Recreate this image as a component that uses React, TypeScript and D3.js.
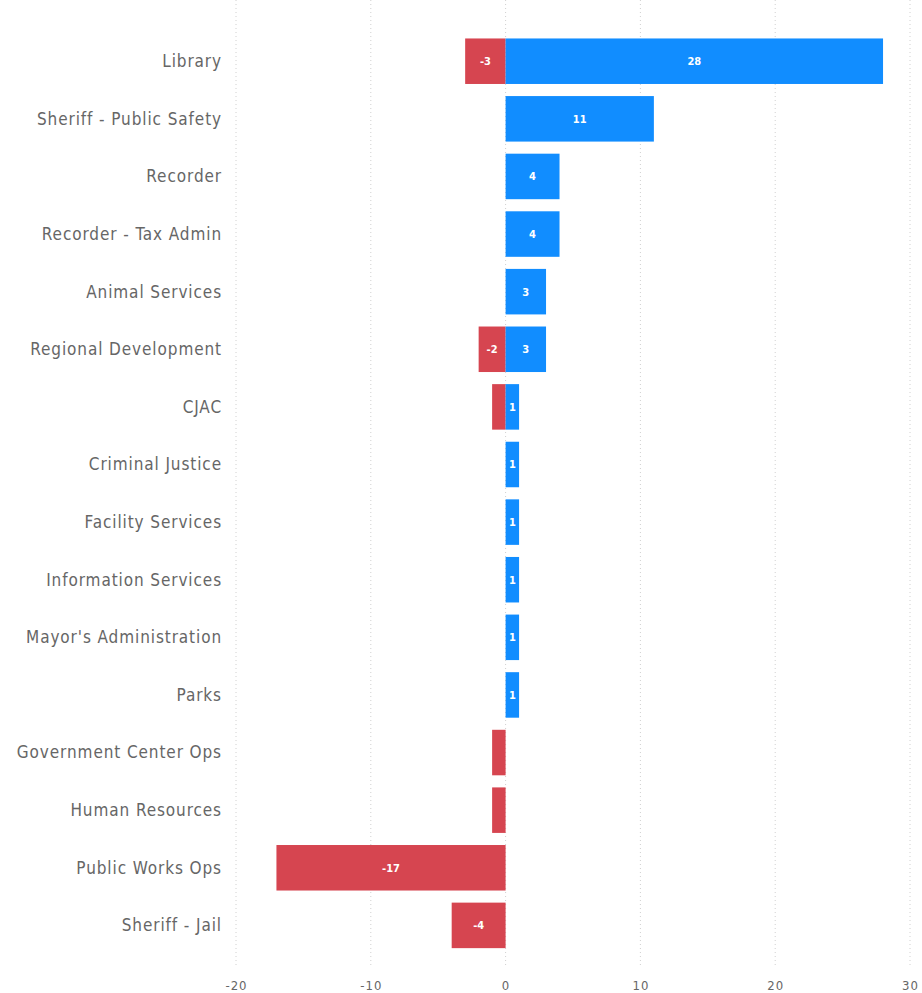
import React, { useEffect, useRef } from "react";
import * as d3 from "d3";

const categories = [
  "Library",
  "Sheriff - Public Safety",
  "Recorder",
  "Recorder - Tax Admin",
  "Animal Services",
  "Regional Development",
  "CJAC",
  "Criminal Justice",
  "Facility Services",
  "Information Services",
  "Mayor's Administration",
  "Parks",
  "Government Center Ops",
  "Human Resources",
  "Public Works Ops",
  "Sheriff - Jail",
];
const positiveValues = [28, 11, 4, 4, 3, 3, 1, 1, 1, 1, 1, 1, 0, 0, 0, 0];
const negativeValues = [-3, 0, 0, 0, 0, -2, -1, 0, 0, 0, 0, 0, -1, -1, -17, -4];
const xTicks = [-20, -10, 0, 10, 20, 30];

const W = 922;
const H = 993;
const BLUE = "#118DFF";
const RED = "#D64550";
const TEXT = "#666666";
const FONT = "'DejaVu Sans Condensed', 'Liberation Sans Narrow', 'Roboto', sans-serif";

export default function App() {
  const ref = useRef<SVGSVGElement>(null);
  useEffect(() => {
    const svg = d3.select(ref.current);
    svg.selectAll("*").remove();
    const x = d3.scaleLinear().domain([-20, 30]).range([236, 910]);
    const y = d3
      .scaleBand<string>()
      .domain(categories)
      .range([32.7, 953.9])
      .paddingInner(0.21)
      .paddingOuter(0.1);

    // gridlines
    svg
      .append("g")
      .selectAll("line")
      .data(xTicks)
      .join("line")
      .attr("x1", (d) => x(d))
      .attr("x2", (d) => x(d))
      .attr("y1", 0)
      .attr("y2", 966)
      .attr("stroke", "#d0d0d0")
      .attr("stroke-width", 1)
      .attr("stroke-dasharray", "1,3");

    // tick labels
    svg
      .append("g")
      .selectAll("text")
      .data(xTicks)
      .join("text")
      .attr("x", (d) => x(d) + 0.5)
      .attr("y", 990)
      .attr("text-anchor", "middle")
      .attr("fill", TEXT)
      .attr("font-family", FONT)
      .attr("font-size", 13)
      .attr("letter-spacing", 1)
      .text((d) => String(d));

    // category labels
    svg
      .append("g")
      .selectAll("text")
      .data(categories)
      .join("text")
      .attr("x", 222)
      .attr("y", (d) => (y(d) as number) + y.bandwidth() / 2)
      .attr("dy", "0.35em")
      .attr("text-anchor", "end")
      .attr("fill", TEXT)
      .attr("font-family", FONT)
      .attr("font-size", 17)
      .attr("letter-spacing", 0.9)
      .text((d) => d);

    const series = [
      { values: negativeValues, color: RED },
      { values: positiveValues, color: BLUE },
    ];
    series.forEach((s) => {
      const rows = categories
        .map((c, i) => ({ c, v: s.values[i] }))
        .filter((r) => r.v !== 0);
      const g = svg.append("g");
      g.selectAll("rect")
        .data(rows)
        .join("rect")
        .attr("x", (r) => Math.min(x(0), x(r.v)))
        .attr("width", (r) => Math.abs(x(r.v) - x(0)))
        .attr("y", (r) => y(r.c) as number)
        .attr("height", y.bandwidth())
        .attr("fill", s.color);
      g.selectAll("text")
        .data(rows.filter((r) => r.v !== -1))
        .join("text")
        .attr("x", (r) => (x(r.v) + x(0)) / 2)
        .attr("y", (r) => (y(r.c) as number) + y.bandwidth() / 2)
        .attr("dy", "0.35em")
        .attr("text-anchor", "middle")
        .attr("fill", "#ffffff")
        .attr("font-family", FONT)
        .attr("font-weight", "bold")
        .attr("font-size", 11)
        .text((r) => String(r.v));
    });
  }, []);
  return (
    <svg
      ref={ref}
      width={W}
      height={H}
      style={{ position: "absolute", left: 0, top: 0, background: "#ffffff" }}
    />
  );
}
